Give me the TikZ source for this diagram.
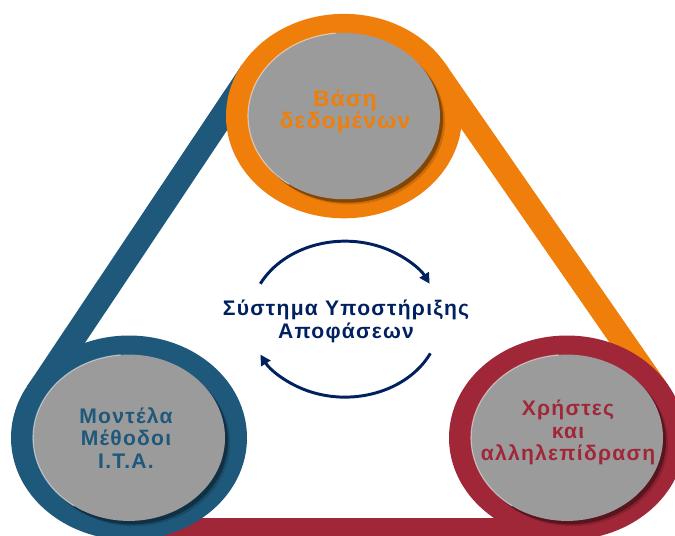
\documentclass[tikz,border=0pt]{standalone}
\usepackage{fontspec}
\setmainfont{Liberation Sans}
\newfontfamily\grfont[LetterSpace=6]{Liberation Sans Bold}
\usetikzlibrary{calc,arrows.meta}
\definecolor{ringorange}{RGB}{239,127,10}
\definecolor{ringblue}{RGB}{30,88,122}
\definecolor{ringred}{RGB}{160,39,56}
\definecolor{discgray}{RGB}{155,155,155}
\definecolor{navytext}{RGB}{0,32,96}

\begin{document}
\begin{tikzpicture}[x=0.025cm, y=0.02165cm,
  disctext/.style={align=center, font=\grfont\fontsize{15}{16}\selectfont, inner sep=0pt},
  cyc/.style={navytext, line width=2.1pt, -{Triangle[length=7.5pt,width=7.5pt]}}]
  % frame is 675 x 535 px; y is squeezed, so the rings are circles here
  \useasboundingbox (0,0) rectangle (675,617.8);
  \def\ro{118} % outer ring radius
  \def\ri{96}  % disc radius
  \def\bi{93}  % inner edge of the bars
  \coordinate (T) at (344,483.8);
  \coordinate (L) at (129,112.5);
  \coordinate (R) at (567,112.5);
  % bars of the triangle, under the rings
  \fill[ringblue] ($(T)+(150:\ro)$) -- ($(T)+(150:\bi)$) -- ($(L)+(150:\bi)$) -- ($(L)+(150:\ro)$) -- cycle;
  \fill[ringorange] ($(T)+(31:\ro)$) -- ($(T)+(31:\bi)$) -- ($(R)+(31:\bi)$) -- ($(R)+(31:\ro)$) -- cycle;
  \fill[ringred] ($(L)+(270:\ro)$) -- ($(L)+(270:\bi)$) -- ($(R)+(270:\bi)$) -- ($(R)+(270:\ro)$) -- cycle;
  % rings with grey discs
  \foreach \c/\col in {T/ringorange, L/ringblue, R/ringred} {
    \fill[\col] (\c) circle[radius=\ro];
    \fill[black, opacity=0.15] ($(\c)+(5,-6)$) circle[radius=\ri];
    \fill[black, opacity=0.35] ($(\c)+(3,-4)$) circle[radius=\ri];
    \fill[discgray] (\c) circle[radius=\ri];
    \draw[white, opacity=0.5, line width=0.8pt] ($(\c)+(95:\ri)$) arc[start angle=95, end angle=235, radius=\ri];
  }
  % labels
  \node[disctext, text=ringorange, font=\grfont\fontsize{16}{15.5}\selectfont] (db) at ($(T)+(1,5)$) {Βάση\\δεδομένων};
  \node[disctext, text=ringblue] (models) at ($(L)+(-3,0)$) {Μοντέλα\\Μέθοδοι\\Ι.Τ.Α.};
  \node[disctext, text=ringred] (users) at ($(R)+(1,6)$) {Χρήστες\\και\\αλληλεπίδραση};
  \node[disctext, text=navytext] (dss) at (346,247) {Σύστημα Υποστήριξης\\Αποφάσεων};
  % cycle arrows round the centre
  \coordinate (cc) at (345,249.4);
  \draw[cyc] ($(cc)+(153:95 and 90)$) arc[start angle=153, end angle=27, x radius=95, y radius=90];
  \draw[cyc] ($(cc)+(-26:95 and 90)$) arc[start angle=-26, end angle=-153, x radius=95, y radius=90];
\end{tikzpicture}
\end{document}
